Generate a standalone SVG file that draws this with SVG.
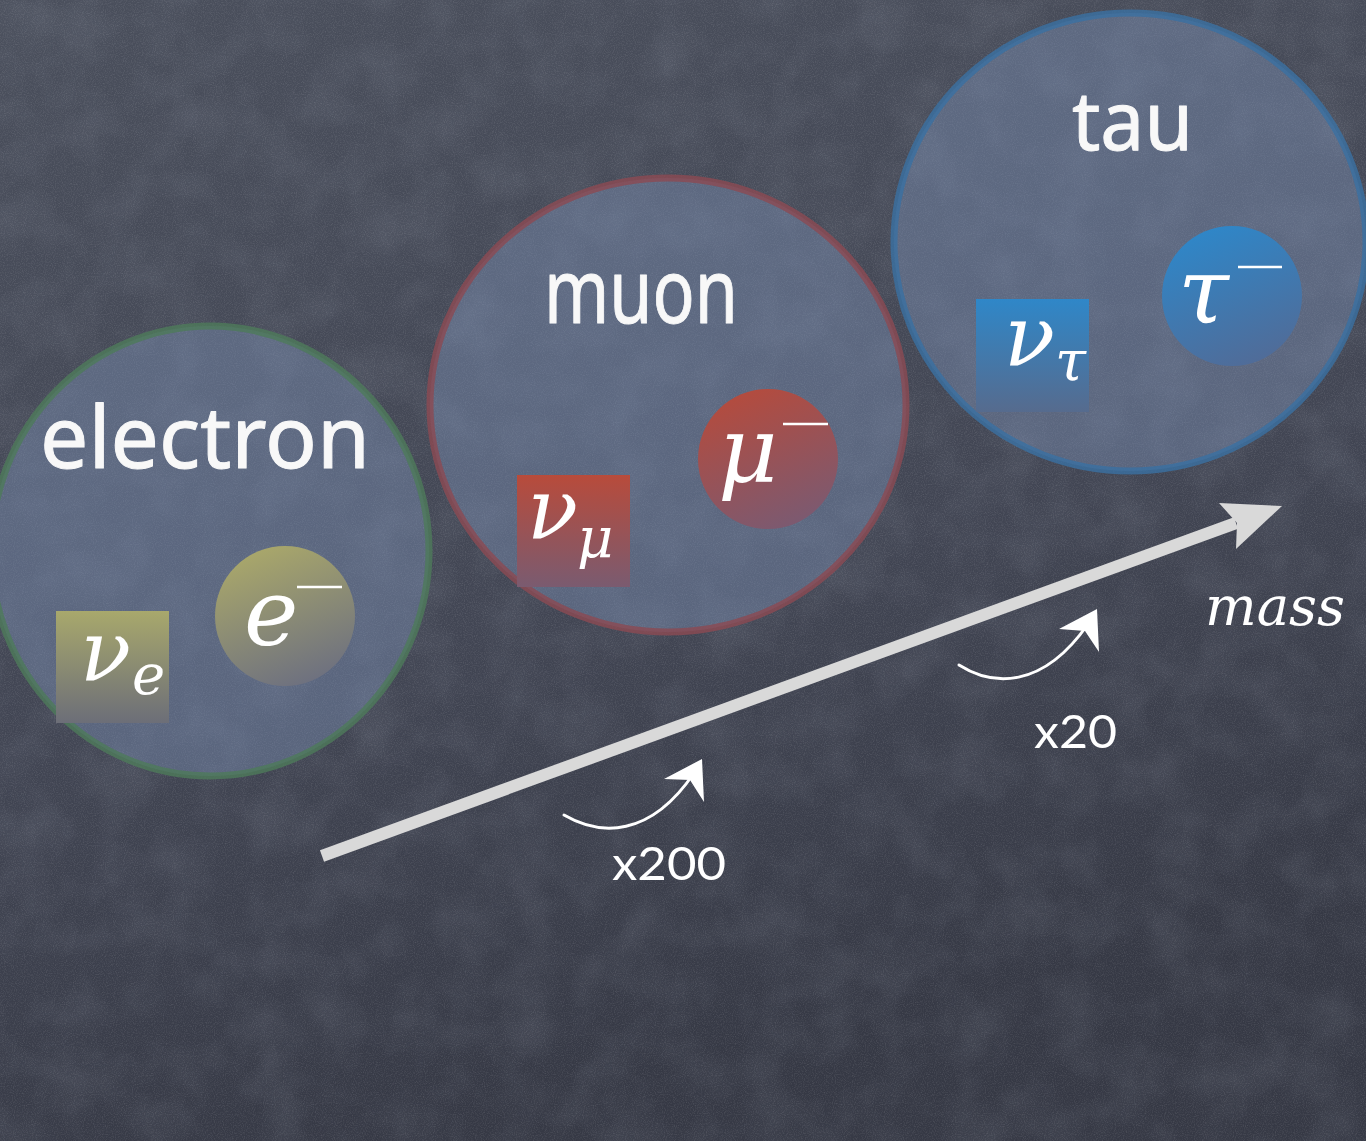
<svg xmlns="http://www.w3.org/2000/svg" width="1366" height="1141" viewBox="0 0 1366 1141">
<defs>
  <linearGradient id="bg" x1="0" y1="0" x2="0.3" y2="1">
    <stop offset="0" stop-color="#4a4f5c"/>
    <stop offset="0.6" stop-color="#424654"/>
    <stop offset="1" stop-color="#363945"/>
  </linearGradient>
  <filter id="noise" x="0" y="0" width="100%" height="100%">
    <feTurbulence type="fractalNoise" baseFrequency="0.9" numOctaves="2" seed="3" result="n"/>
    <feColorMatrix type="matrix" values="0 0 0 0 1  0 0 0 0 1  0 0 0 0 1  0.9 0 0 0 -0.38" />
  </filter>
  <filter id="blotch" x="0" y="0" width="100%" height="100%">
    <feTurbulence type="fractalNoise" baseFrequency="0.02" numOctaves="3" seed="8"/>
    <feColorMatrix type="matrix" values="0 0 0 0 0.55  0 0 0 0 0.6  0 0 0 0 0.7  1.2 0 0 0 -0.45" />
  </filter>
  <linearGradient id="gYel" x1="0" y1="0" x2="0" y2="1">
    <stop offset="0" stop-color="#a8a86c"/>
    <stop offset="1" stop-color="#6c6e78"/>
  </linearGradient>
  <linearGradient id="gYelC" x1="0.3" y1="0" x2="0.7" y2="1">
    <stop offset="0" stop-color="#aaa86a"/>
    <stop offset="1" stop-color="#6c6f80"/>
  </linearGradient>
  <linearGradient id="gRed" x1="0" y1="0" x2="0" y2="1">
    <stop offset="0" stop-color="#b84b3b"/>
    <stop offset="1" stop-color="#7a5b70"/>
  </linearGradient>
  <linearGradient id="gRedC" x1="0.3" y1="0" x2="0.7" y2="1">
    <stop offset="0" stop-color="#b54b3d"/>
    <stop offset="1" stop-color="#7a5a72"/>
  </linearGradient>
  <linearGradient id="gBlu" x1="0" y1="0" x2="0" y2="1">
    <stop offset="0" stop-color="#2f87c8"/>
    <stop offset="1" stop-color="#566b8e"/>
  </linearGradient>
  <linearGradient id="gBluC" x1="0.3" y1="0" x2="0.7" y2="1">
    <stop offset="0" stop-color="#2e87c9"/>
    <stop offset="1" stop-color="#516b97"/>
  </linearGradient>
  <style>
    .fam { fill: #7f93ba; fill-opacity: 0.42; stroke-width: 7; stroke-opacity: 0.8; }
    .label { font-family: "Noto Sans", "Open Sans", sans-serif; fill: #f8f8f8; stroke: #f8f8f8; stroke-width: 1; stroke-linejoin: round; }
    .math { font-family: "DejaVu Serif", "Liberation Serif", serif; font-style: italic; fill: #ffffff; }
    .minus { stroke: #ffffff; stroke-width: 2.5; }
    .factor { font-family: Lato, "Open Sans", sans-serif; fill: #ffffff; font-size: 47px; }
    .curve { fill: none; stroke: #ffffff; stroke-width: 3; stroke-linecap: round; }
  </style>
</defs>

<rect width="1366" height="1141" fill="url(#bg)"/>
<rect width="1366" height="1141" filter="url(#blotch)" opacity="0.15"/>
<rect width="1366" height="1141" filter="url(#noise)" opacity="0.25"/>

<g id="electron">
  <ellipse class="fam" cx="210" cy="551" rx="219" ry="225" stroke="#4d7a5a"/>
  <text class="label" x="40" y="468" font-size="86" textLength="330" lengthAdjust="spacingAndGlyphs">electron</text>
  <g id="nu_e">
    <rect x="56" y="611" width="113" height="112" fill="url(#gYel)"/>
    <text class="math" x="80" y="680" font-size="84">ν</text>
    <text class="math" x="132" y="694" font-size="56">e</text>
  </g>
  <g id="e_minus">
    <circle cx="285" cy="616" r="70" fill="url(#gYelC)"/>
    <text class="math" x="244" y="645" font-size="92">e</text>
    <line class="minus" x1="297" y1="587" x2="342" y2="587"/>
  </g>
</g>

<g id="muon">
  <ellipse class="fam" cx="668" cy="405" rx="238" ry="227" stroke="#8c4a52"/>
  <text class="label" x="544" y="323" font-size="90" textLength="194" lengthAdjust="spacingAndGlyphs">muon</text>
  <g id="nu_mu">
    <rect x="517" y="475" width="113" height="112" fill="url(#gRed)"/>
    <text class="math" x="527" y="538" font-size="84">ν</text>
    <text class="math" x="577" y="557" font-size="56">μ</text>
  </g>
  <g id="mu_minus">
    <circle cx="768" cy="459" r="70" fill="url(#gRedC)"/>
    <text class="math" x="718" y="482" font-size="92">μ</text>
    <line class="minus" x1="783" y1="424" x2="828" y2="424"/>
  </g>
</g>

<g id="tau">
  <ellipse class="fam" cx="1130" cy="242" rx="236" ry="229" stroke="#3a70a2"/>
  <text class="label" x="1072" y="150" font-size="82" textLength="121" lengthAdjust="spacingAndGlyphs">tau</text>
  <g id="nu_tau">
    <rect x="976" y="299" width="113" height="113" fill="url(#gBlu)"/>
    <text class="math" x="1004" y="365" font-size="84">ν</text>
    <text class="math" x="1055" y="380" font-size="56">τ</text>
  </g>
  <g id="tau_minus">
    <circle cx="1232" cy="296" r="70" fill="url(#gBluC)"/>
    <text class="math" x="1178" y="323" font-size="92">τ</text>
    <line class="minus" x1="1238" y1="267" x2="1282" y2="267"/>
  </g>
</g>

<g id="connectors">
  <line x1="322" y1="856" x2="1236" y2="523" stroke="#d9d9d9" stroke-width="12"/>
  <polygon points="1282,506 1219,503 1237,523 1236,549" fill="#d9d9d9"/>
  <path class="curve" d="M564,815 C600,836 650,838 694,773"/>
  <polygon points="702,759 664,779 690,780 704,802" fill="#ffffff"/>
  <path class="curve" d="M959,665 C992,686 1042,690 1088,624"/>
  <polygon points="1097,609 1059,629 1085,631 1099,652" fill="#ffffff"/>
</g>

<g id="labels">
  <text class="factor" x="612" y="880" textLength="114" lengthAdjust="spacingAndGlyphs">x200</text>
  <text class="factor" x="1034" y="748" textLength="83" lengthAdjust="spacingAndGlyphs">x20</text>
  <text class="math" x="1205" y="625" font-size="54" font-family="Liberation Serif" textLength="140" lengthAdjust="spacingAndGlyphs">mass</text>
</g>
</svg>
